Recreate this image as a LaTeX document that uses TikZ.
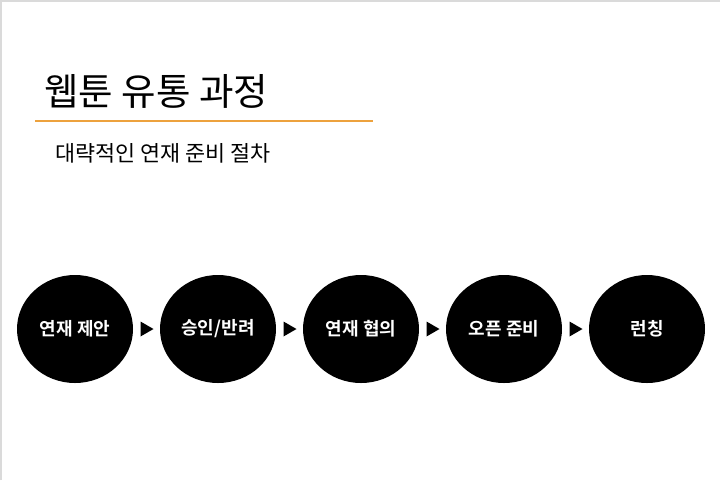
\documentclass[tikz,border=0pt]{standalone}
\usepackage{fontspec}
\usetikzlibrary{shapes.geometric}
\setmainfont{Noto Sans CJK KR}
\newfontfamily\krbold{Noto Sans CJK KR Bold}
\definecolor{accent}{HTML}{EDA23E}
\definecolor{framegray}{HTML}{DADADA}
\begin{document}
\begin{tikzpicture}[x=1pt,y=-1pt,
  stepcircle/.style={ellipse, fill=black, minimum width=116pt, minimum height=108pt, inner sep=0pt, text=white, font=\krbold\fontsize{18}{20}\selectfont},
  tri/.style={fill=black, draw=none}]
\useasboundingbox (0,0) rectangle (720,480);
\fill[white] (0,0) rectangle (720,480);
\draw[framegray, line width=1.5pt] (0.75,480) -- (0.75,0.75) -- (720,0.75);
\node[anchor=west, inner sep=0pt, font=\fontsize{37.5}{42}\selectfont] (title) at (44,91) {웹툰 유통 과정};
\coordinate (l1) at (35,121);
\coordinate (l2) at (373,121);
\draw[accent, line width=1.6pt] (l1) -- (l2);
\node[anchor=west, inner sep=0pt, font=\fontsize{21.8}{24}\selectfont] (sub) at (55,153) {대략적인 연재 준비 절차};
\node[stepcircle] (c1) at (75,329) {연재 제안};
\node[stepcircle] (c2) at (218,329) {승인/반려};
\node[stepcircle] (c3) at (361,329) {연재 협의};
\node[stepcircle] (c4) at (504,329) {오픈 준비};
\node[stepcircle] (c5) at (647,329) {런칭};
\foreach \a/\b in {c1/c2,c2/c3,c3/c4,c4/c5}{
  \path (\a.east) -- (\b.west) coordinate[midway] (m\a);
  \fill[tri] ([xshift=-6pt,yshift=-7.5pt]m\a) -- ([xshift=7pt]m\a) -- ([xshift=-6pt,yshift=7.5pt]m\a) -- cycle;
}
\end{tikzpicture}
\end{document}
